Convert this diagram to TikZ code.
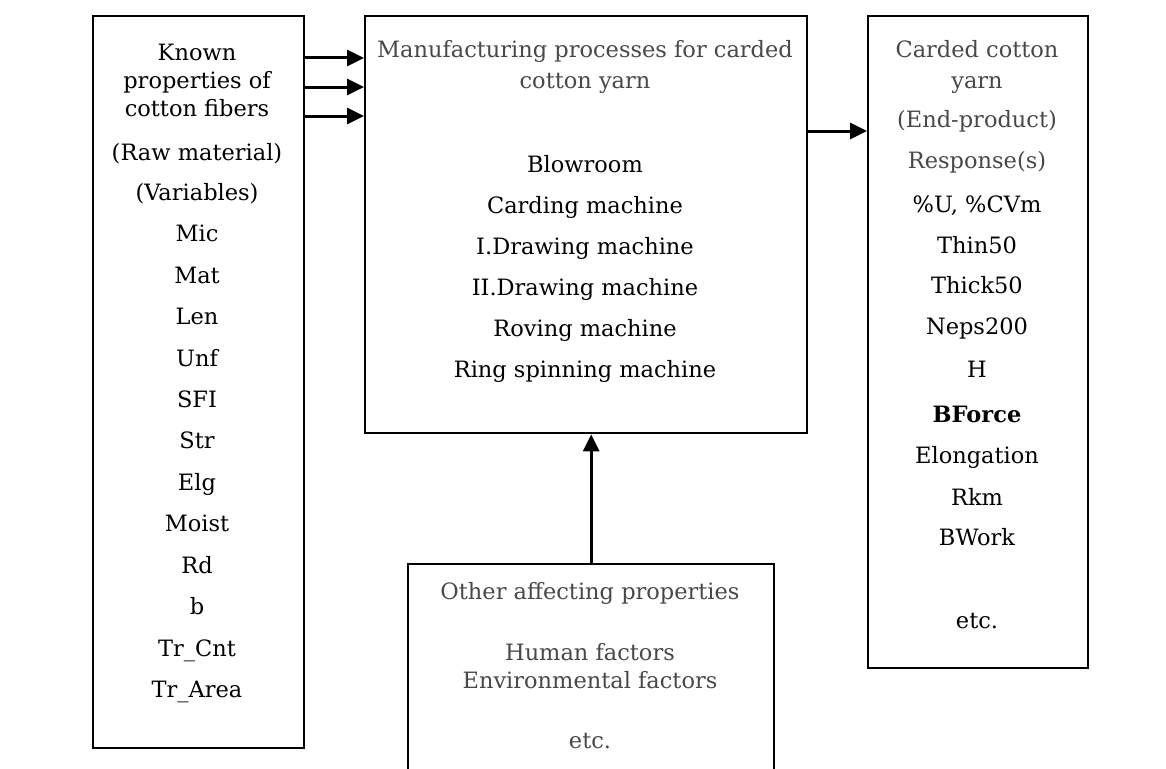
\documentclass[tikz,border=0pt]{standalone}
\usepackage{fontspec}
\setmainfont{DejaVu Serif}
\usetikzlibrary{arrows.meta,positioning}
\definecolor{headgray}{RGB}{72,72,72}
\tikzset{
  box/.style={draw, line width=2.4pt, anchor=north west, inner sep=0pt},
  arrow/.style={line width=3pt, -{Triangle[length=17pt,width=16pt]}},
  item/.style={anchor=base, inner sep=0pt, font=\fontsize{22.5}{28}\selectfont},
  head/.style={item, text=headgray},
}

\begin{document}
\begin{tikzpicture}[x=1pt, y=-1pt]
    \useasboundingbox (0,0) rectangle (1166,768);

    % Boxes
    \node[box, minimum width=211pt, minimum height=732pt] (fibers) at (92,15) {};
    \node[box, minimum width=442pt, minimum height=417pt] (proc) at (364,15) {};
    \node[box, minimum width=220pt, minimum height=652pt] (yarn) at (867,15) {};
    \node[box, minimum width=366pt, minimum height=240pt] (other) at (407,563) {};

    % Raw material
    \foreach \txt/\yy [count=\i] in {Known/60, properties of/88, cotton fibers/116,
        {(Raw material)}/160, {(Variables)}/200, Mic/241, Mat/283, Len/324, Unf/366,
        SFI/407, Str/448, Elg/490, Moist/531, Rd/573, b/614, Tr\_Cnt/656, Tr\_Area/697} {
        \node[item] (fib-\i) at (197,\yy) {\txt};
    }

    % Processes
    \node[head] (proc-h1) at (585,57) {Manufacturing processes for carded};
    \node[head] (proc-h2) at (585,88) {cotton yarn};
    \foreach \txt/\yy [count=\i] in {Blowroom/172, Carding machine/213, I.Drawing machine/254,
        II.Drawing machine/295, Roving machine/336, Ring spinning machine/377} {
        \node[item] (proc-\i) at (585,\yy) {\txt};
    }

    % End-product
    \foreach \txt/\yy [count=\i] in {Carded cotton/58, yarn/88, {(End-product)}/127, {Response(s)}/168} {
        \node[head] (yarn-h\i) at (977,\yy) {\txt};
    }
    \foreach \txt/\yy [count=\i] in {{\%U, \%CVm}/212, Thin50/253, Thick50/293, Neps200/334, H/377,
        {\textbf{BForce}}/422, Elongation/463, Rkm/505, BWork/545, etc./628} {
        \node[item] (yarn-\i) at (977,\yy) {\txt};
    }

    % Other properties
    \foreach \txt/\yy [count=\i] in {Other affecting properties/599, Human factors/660,
        Environmental factors/688, etc./748} {
        \node[head] (other-\i) at (590,\yy) {\txt};
    }

    % Arrows
    \foreach \dy in {43,72,101}
        \draw[arrow] ([yshift=-\dy pt]fibers.north east) -- ([yshift=-\dy pt]proc.north west);
    \draw[arrow] ([yshift=-116pt]proc.north east) -- ([yshift=-116pt]yarn.north west);
    \draw[arrow] (other.north) -- (other.north |- proc.south);
\end{tikzpicture}
\end{document}
